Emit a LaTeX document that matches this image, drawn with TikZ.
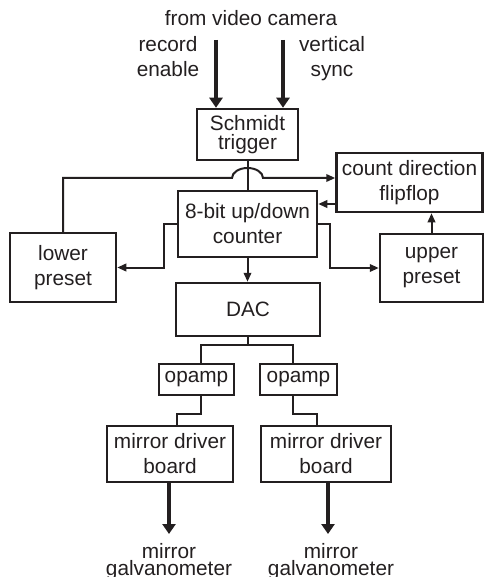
\documentclass[tikz,border=0pt]{standalone}
\usepackage{fontspec}
\setmainfont{Liberation Sans}
\usetikzlibrary{arrows.meta}
\definecolor{ink}{HTML}{231F20}
\begin{document}
\begin{tikzpicture}[x=1pt,y=-1pt,
  box/.style={draw=ink, line width=2.5pt, inner sep=0pt, align=center, text=ink, font=\fontsize{20.8}{25}\selectfont},
  lbl/.style={text=ink, align=center, inner sep=0pt, font=\fontsize{20.8}{25}\selectfont},
  conn/.style={draw=ink, line width=2pt},
  arr/.style={conn, -{Triangle[length=9pt,width=7.5pt]}},
  bigarr/.style={draw=ink, line width=4pt, -{Triangle[length=10pt,width=13pt]}}]
\useasboundingbox (0,0) rectangle (485,577);

% boxes
\node[box, minimum width=101pt, minimum height=51pt, font=\fontsize{20.8}{19}\selectfont] (sch) at (247.5,134.5) {Schmidt\\trigger};
\node[box, minimum width=146pt, minimum height=59pt] (ff) at (409.5,182.5) {count direction\\flipflop};
\node[box, minimum width=139pt, minimum height=66pt] (cnt) at (247.5,224) {8-bit up/down\\counter};
\node[box, minimum width=106pt, minimum height=69pt] (low) at (63,267.5) {lower\\preset};
\node[box, minimum width=103pt, minimum height=68pt] (up) at (431.5,268) {upper\\preset};
\node[box, minimum width=144pt, minimum height=53pt] (dac) at (248,309.5) {DAC};
\node[box, minimum width=75pt, minimum height=31pt] (opl) at (196.5,379.5) {opamp};
\node[box, minimum width=77pt, minimum height=31pt] (opr) at (298.5,379.5) {opamp};
\node[box, minimum width=126pt, minimum height=56pt] (mdl) at (170,454) {mirror driver\\board};
\node[box, minimum width=130pt, minimum height=56pt] (mdr) at (326,454) {mirror driver\\board};

% labels
\node[lbl] (cam) at (251,18.5) {from video camera};
\node[lbl] (rec) at (168,57) {record\\enable};
\node[lbl] (vs) at (332,59) {vertical\\sync};
\node[lbl, font=\fontsize{20.8}{17}\selectfont] (gl) at (169,562) {mirror\\galvanometer};
\node[lbl, font=\fontsize{20.8}{17}\selectfont] (gr) at (331,562) {mirror\\galvanometer};

% coordinates
\coordinate (recs) at (216,40);
\coordinate (vss) at (283,40);
\coordinate (jl) at (232,178);
\coordinate (jr) at (263,178);
\coordinate (sl) at (201,345);
\coordinate (sr) at (293,345);
\coordinate (kl) at (177,414);
\coordinate (kr) at (317,414);
\coordinate (el) at (169,534);
\coordinate (er) at (328,534);

% thick arrows
\draw[bigarr] (recs) -- (recs |- sch.north);
\draw[bigarr] (vss) -- (vss |- sch.north);
\draw[bigarr] (mdl.south -| el) -- (el);
\draw[bigarr] (mdr.south -| er) -- (er);

% connectors
\draw[conn] (sch.south) -- (cnt.north);
\draw[arr] (low.north) |- (jl) arc[start angle=180, end angle=360, x radius=15.5, y radius=10] -- (jr -| ff.west);
\draw[arr] ([yshift=-21.5pt]ff.west) -- ([yshift=-21.5pt]ff.west -| cnt.east);
\draw[arr] (cnt.west) -- ++(-13,0) |- (low.east);
\draw[arr] (cnt.east) -- ++(12,0) |- (up.west);
\draw[arr] (up.north) -- (up.north |- ff.south);
\draw[arr] (cnt.south) -- (cnt.south |- dac.north);
\draw[conn] (dac.south) -- (dac.south |- sl);
\draw[conn] (sl |- opl.north) -- (sl) -- (sr) -- (sr |- opr.north);
\draw[conn] (sl |- opl.south) |- (kl) -- (kl |- mdl.north);
\draw[conn] (sr |- opr.south) |- (kr) -- (kr |- mdr.north);
\end{tikzpicture}
\end{document}
